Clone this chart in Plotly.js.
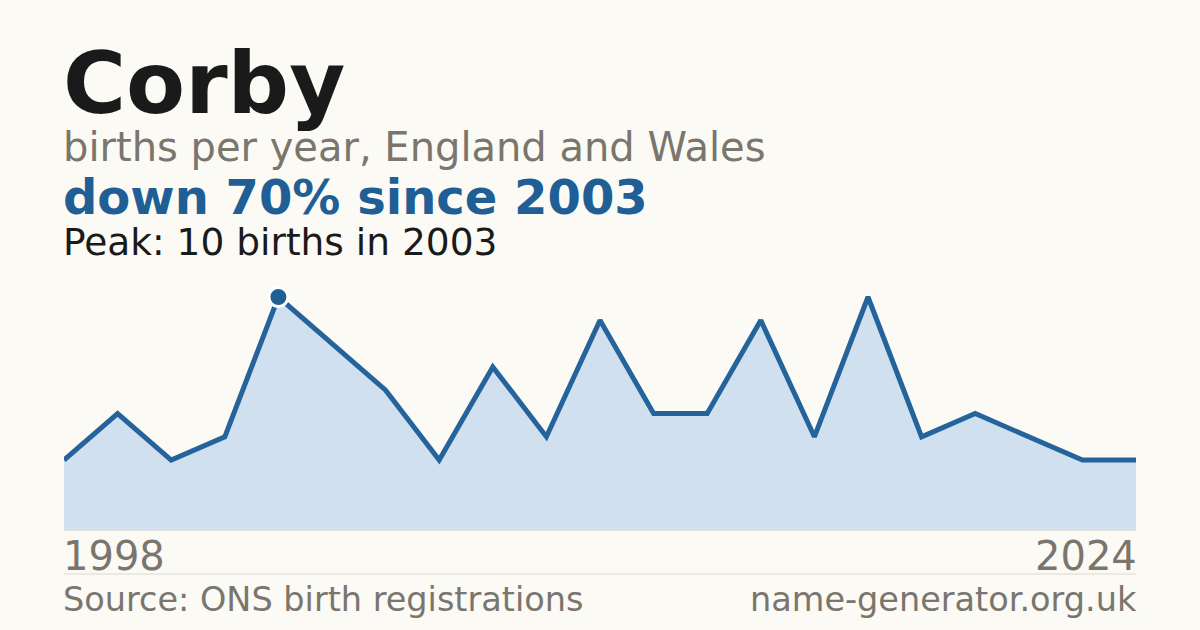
<html>
<head>
    <meta charset="UTF-8">
    <script src="https://cdn.plot.ly/plotly-3.0.1.min.js"></script>
    <style>
        body { margin: 0; background: #fbfaf5; }
        #chart { width: 1200px; height: 630px; }
    </style>
</head>
<body>
    <div id="chart"></div>
    <script>
        // births per year for Corby, one value per recorded year (index order)
        const births = [3, 5, 3, 4, 10, 8, 6, 3, 7, 4, 9, 5, 5, 9, 4, 10, 4, 5, 4, 3, 3];
        const firstYear = '1998';
        const lastYear = '2024';
        const peakYear = '2003';
        const peakIndex = 4;

        const name = 'Corby';
        const subtitle = 'births per year, England and Wales';
        const headline = 'down 70% since ' + peakYear;
        const peakText = 'Peak: ' + births[peakIndex] + ' births in ' + peakYear;
        const source = 'Source: ONS birth registrations';
        const site = 'name-generator.org.uk';

        const xs = births.map(function (_, i) { return i });

        const plotTop = 280, plotBottom = 530;
        function py(px) {
            return (plotBottom - px) / (plotBottom - plotTop);
        }

        const font = 'DejaVu Sans, sans-serif';
        const grey = '#7a756d';
        const blue = '#1f5f96';

        function label(text, x, anchor, ypx, size, color, bold) {
            return {
                text: bold ? '<b>' + text + '</b>' : text,
                xref: 'paper', yref: 'paper',
                x: x, y: py(ypx),
                xanchor: anchor, yanchor: 'middle',
                xshift: anchor === 'left' ? -3 : 3,
                showarrow: false,
                font: { family: font, size: size, color: color }
            };
        }

        const area = {
            x: xs,
            y: births,
            type: 'scatter',
            mode: 'lines',
            fill: 'tozeroy',
            fillcolor: '#d0e0ef',
            line: { color: '#24639b', width: 5 },
            hoverinfo: 'skip'
        };

        const peak = {
            x: [xs[peakIndex]],
            y: [births[peakIndex]],
            type: 'scatter',
            mode: 'markers',
            marker: { color: blue, size: 19, line: { color: '#ffffff', width: 3 } },
            hoverinfo: 'skip'
        };

        const layout = {
            width: 1200,
            height: 630,
            paper_bgcolor: '#fbfaf5',
            plot_bgcolor: '#fbfaf5',
            showlegend: false,
            margin: { l: 64, r: 64, t: plotTop, b: 630 - plotBottom },
            xaxis: {
                range: [0, births.length - 1],
                showgrid: false, zeroline: false, showticklabels: false,
                showline: true, linecolor: '#e6e1d8', linewidth: 1,
                fixedrange: true
            },
            yaxis: {
                range: [0, 10.73],
                visible: false,
                fixedrange: true
            },
            shapes: [{
                type: 'line', xref: 'paper', yref: 'paper',
                x0: 0, x1: 1, y0: py(574), y1: py(574),
                line: { color: '#dcd8d0', width: 1 }
            }],
            annotations: [
                label(name, 0, 'left', 83, 86, '#1a1a1a', true),
                label(subtitle, 0, 'left', 147, 40, grey, false),
                label(headline, 0, 'left', 197, 48, blue, true),
                label(peakText, 0, 'left', 242, 37.5, '#1a1a1a', false),
                label(firstYear, 0, 'left', 556, 40, grey, false),
                label(lastYear, 1, 'right', 556, 40, grey, false),
                label(source, 0, 'left', 599, 33.5, grey, false),
                label(site, 1, 'right', 599, 33.5, grey, false)
            ]
        };

        Plotly.newPlot('chart', [area, peak], layout, { staticPlot: true });
    </script>
</body>
</html>
